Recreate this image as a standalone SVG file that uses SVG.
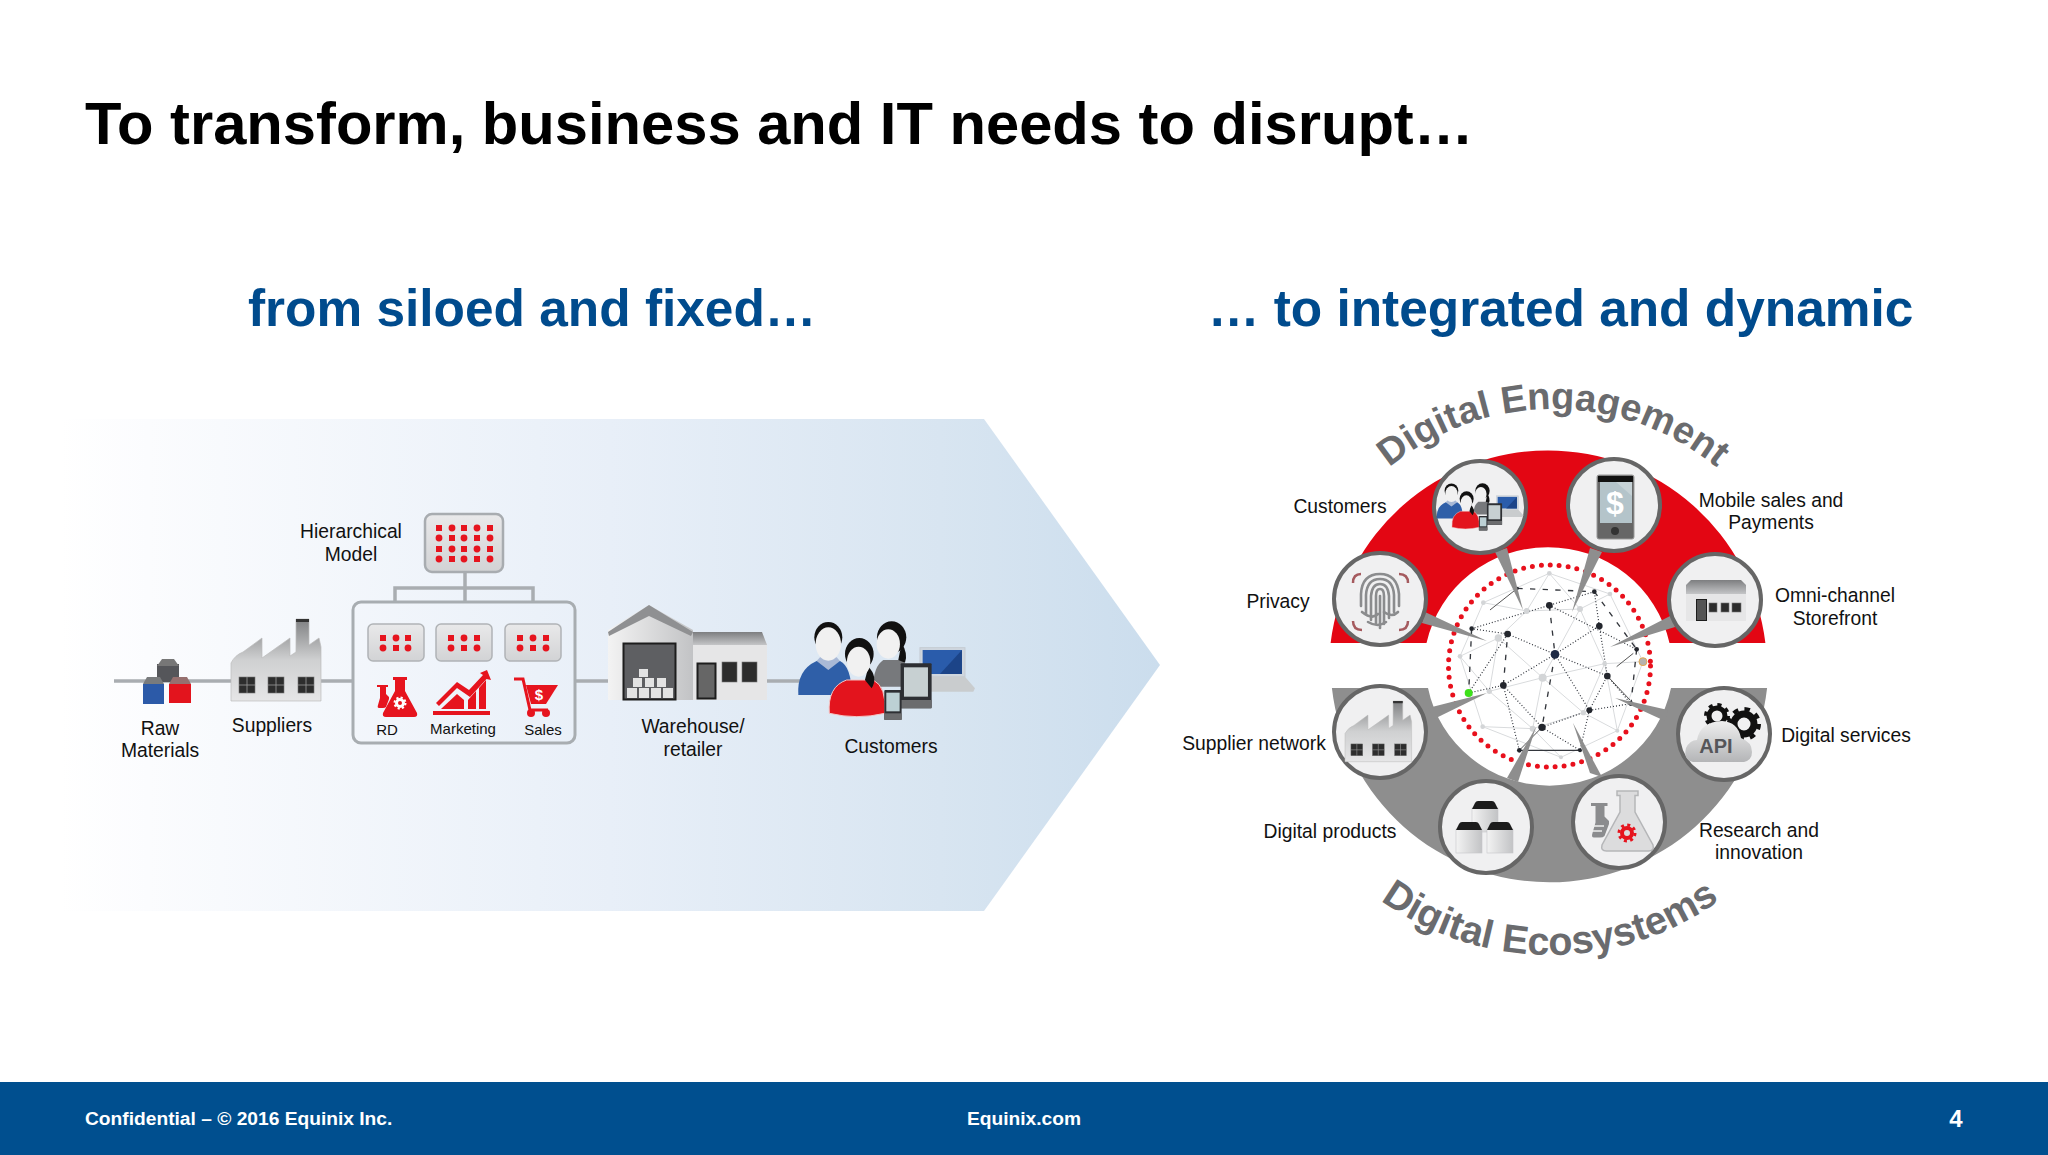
<svg xmlns="http://www.w3.org/2000/svg" width="2048" height="1155" viewBox="0 0 2048 1155">
<style>
text{font-family:"Liberation Sans",Arial,sans-serif;fill:#111}
.t{font-size:19.300px;text-anchor:middle}
.s{font-size:15px;text-anchor:middle}
.h{font-size:51.400px;font-weight:700;fill:#004b8d}
.f{font-size:19.200px;font-weight:700;fill:#fff}
.c{font-size:38px;font-weight:700;fill:#6a6b6e}
.ln{stroke:#a9adb1;stroke-width:3.5;fill:none}
.ring{fill:#f0f0f1;stroke:#666;stroke-width:4}
.ptr{fill:#8e8e8e}
.rd{fill:#e6141e}
.lg{stroke:#d9dbdd;stroke-width:3;fill:none}
.dt{stroke:#2c3038;stroke-width:3.5;stroke-dasharray:3 6;fill:none}
.ds{stroke:#33363c;stroke-width:4;stroke-dasharray:16 22;fill:none}
.nd{fill:#23262d}
.nl{fill:#d3d5d7}
.win{fill:#2d2d2d;stroke:#777;stroke-width:.6}
</style>
<defs>
<linearGradient id="arrow" x1="0" x2="1" y1="0" y2="0"><stop offset="0" stop-color="#fff"/><stop offset=".08" stop-color="#fbfcfe"/><stop offset=".5" stop-color="#e8eff8"/><stop offset=".8" stop-color="#d8e5f1"/><stop offset="1" stop-color="#cbdded"/></linearGradient>
<linearGradient id="gv" x1="0" x2="0" y1="0" y2="1"><stop offset="0" stop-color="#7f8082"/><stop offset=".5" stop-color="#cfd0d1"/><stop offset="1" stop-color="#e6e6e7"/></linearGradient>
<linearGradient id="gh" x1="0" x2="1" y1="0" y2="0"><stop offset="0" stop-color="#f3f3f3"/><stop offset="1" stop-color="#c2c3c5"/></linearGradient>
<linearGradient id="chip" x1="0" x2="0" y1="0" y2="1"><stop offset="0" stop-color="#e9e9ea"/><stop offset="1" stop-color="#d2d3d5"/></linearGradient>
<linearGradient id="cloud" x1="0" x2="0" y1="0" y2="1"><stop offset="0" stop-color="#efefef"/><stop offset="1" stop-color="#b4b5b7"/></linearGradient>
<linearGradient id="roof" x1="0" x2="0" y1="0" y2="1"><stop offset="0" stop-color="#7d7e80"/><stop offset="1" stop-color="#c4c5c7"/></linearGradient>
<g id="factory">
<path d="M0 82V44Q4 36 12 33L31 19V39L59 19V37L65 33V0H78V26L88 19L90 28V82Z" fill="url(#gv)" stroke="#bbb" stroke-width=".7"/>
<path d="M65 0H78V3H65Z" fill="#333"/>
<g class="win"><rect x="8" y="58" width="16" height="16"/><rect x="37" y="58" width="16" height="16"/><rect x="67" y="58" width="16" height="16"/></g>
<path d="M16 58V74M8 66H24M45 58V74M37 66H53M75 58V74M67 66H83" stroke="#999" stroke-width=".8"/>
</g>
<g id="flask"><path d="M10 0H24V3H22V14L34 36Q35 40 31 40H3Q-1 40 0 36L12 14V3H10Z"/></g>
<g id="sflask"><path d="M2 0H13V2H11V9L14 12V14L11 22Q10 23 8 23H4Q2 23 3 20L5 13V2H2Z"/></g>
<g id="people">
<path d="M625 345Q620 270 680 243L750 243Q785 260 785 345Z" fill="#2f5fa8"/>
<path d="M680 243L715 270L750 243L740 232H690Z" fill="#a9b9d6"/>
<ellipse cx="715" cy="172" rx="42" ry="46" fill="#111"/>
<ellipse cx="715" cy="192" rx="38" ry="50" fill="#f1f1f1"/>
<path d="M850 320Q850 260 880 240H935Q960 260 965 320Z" fill="#77797c"/>
<ellipse cx="905" cy="172" rx="44" ry="48" fill="#111"/>
<path d="M935 190Q955 220 945 248L925 240Z" fill="#111"/>
<ellipse cx="895" cy="192" rx="35" ry="44" fill="#f1f1f1"/>
<rect x="990" y="203" width="135" height="87" fill="#cfd6de" stroke="#c5cbd2" stroke-width="3"/>
<rect x="998" y="210" width="118" height="72" fill="#2a5cab"/>
<path d="M1050 282L1116 210V282Z" fill="#1c4488"/>
<path d="M1000 290H1125L1155 325L1150 335H1000Z" fill="#c9ccce"/>
<path d="M718 400Q712 320 770 300H850Q890 320 885 400Q800 420 718 400Z" fill="#e3141d" stroke="#f3c6c6" stroke-width="3"/>
<ellipse cx="808" cy="222" rx="43" ry="48" fill="#111"/>
<path d="M835 260Q865 290 845 325L825 300Z" fill="#111"/>
<ellipse cx="806" cy="245" rx="35" ry="45" fill="#f1f1f1"/>
<rect x="932" y="250" width="93" height="135" rx="3" fill="#2d2f33"/>
<rect x="942" y="262" width="72" height="88" fill="#c7d0d2"/>
<rect x="932" y="360" width="93" height="25" fill="#6b6c6e"/>
<rect x="883" y="330" width="52" height="90" rx="3" fill="#2d2f33"/>
<rect x="889" y="338" width="40" height="56" fill="#bcd0d4"/>
<rect x="883" y="400" width="52" height="20" fill="#6b6c6e"/>
</g>
<g id="cube"><rect y="7" width="26" height="24" fill="url(#gh)" stroke="#c6c7c9" stroke-width=".6"/><path d="M0 8L3 2Q4 0 6 0H20Q22 0 23 2L26 8Z" fill="#1c1c1c"/></g>
<path id="arc-top" d="M1295 667A258 258 0 0 1 1811 667"/>
<path id="arc-bottom" d="M1260 665A290 290 0 0 0 1840 665"/>
</defs>

<rect width="2048" height="1155" fill="#fff"/>
<polygon id="arrow-band" points="60,419 984,419 1160,665 984,911 60,911" fill="url(#arrow)"/>

<text id="title" x="85" y="144" font-size="59.700" font-weight="700" style="fill:#000">To transform, business and IT needs to disrupt…</text>
<text class="h" x="248" y="326">from siloed and fixed…</text>
<text class="h" x="1208" y="326">… to integrated and dynamic</text>

<g id="connectors-left">
<path class="ln" d="M114 681H232M320 681H353M576 681H610M766 681H800"/>
<path class="ln" d="M465 572V602M395 601V588H533V601" stroke-width="3"/>
</g>

<g id="node-raw-materials">
<rect x="157" y="664" width="22" height="18" fill="#55565a"/><path d="M157 666L162 659H174L179 666Z" fill="#777"/>
<rect x="143" y="684" width="21" height="20" fill="#2c5aa8"/><path d="M143 684L147 677H160L164 684Z" fill="#797b7d"/>
<rect x="169" y="684" width="22" height="19" fill="#e3141d"/><path d="M169 684L173 677H187L191 684Z" fill="#96706f"/>
<text class="t" x="160" y="735">Raw</text><text class="t" x="160" y="757">Materials</text>
</g>
<g id="node-suppliers">
<use href="#factory" transform="translate(231 619)"/>
<text class="t" x="272" y="732">Suppliers</text>
</g>
<g id="node-hierarchical-model">
<rect x="425" y="514" width="78" height="58" rx="7" fill="url(#chip)" stroke="#a8acb0" stroke-width="2.500"/>
<g class="rd">
<rect x="436" y="525" width="6" height="6"/><circle cx="452" cy="528" r="3.400"/><rect x="461" y="525" width="6" height="6"/><circle cx="477" cy="528" r="3.400"/><rect x="487" y="525" width="6" height="6"/>
<circle cx="439" cy="538" r="3.400"/><rect x="449" y="535" width="6" height="6"/><circle cx="464" cy="538" r="3.400"/><rect x="474" y="535" width="6" height="6"/><circle cx="490" cy="538" r="3.400"/>
<rect x="436" y="546" width="6" height="6"/><circle cx="452" cy="549" r="3.400"/><rect x="461" y="546" width="6" height="6"/><circle cx="477" cy="549" r="3.400"/><rect x="487" y="546" width="6" height="6"/>
<circle cx="439" cy="559" r="3.400"/><rect x="449" y="556" width="6" height="6"/><circle cx="464" cy="559" r="3.400"/><rect x="474" y="556" width="6" height="6"/><circle cx="490" cy="559" r="3.400"/>
</g>
<text class="t" x="351" y="538">Hierarchical</text><text class="t" x="351" y="561">Model</text>
</g>
<g id="node-divisions">
<rect x="353" y="602" width="222" height="141" rx="8" fill="none" stroke="#a8adb1" stroke-width="3"/>
<g fill="url(#chip)" stroke="#b0b3b6" stroke-width="1.500"><rect x="368" y="624" width="56" height="37" rx="5"/><rect x="436" y="624" width="56" height="37" rx="5"/><rect x="505" y="624" width="56" height="37" rx="5"/></g>
<g class="rd">
<rect x="380" y="635" width="6" height="6"/><circle cx="396" cy="638" r="3.400"/><rect x="405" y="635" width="6" height="6"/><circle cx="383" cy="648" r="3.400"/><rect x="393" y="645" width="6" height="6"/><circle cx="408" cy="648" r="3.400"/>
<rect x="448" y="635" width="6" height="6"/><circle cx="464" cy="638" r="3.400"/><rect x="474" y="635" width="6" height="6"/><circle cx="451" cy="648" r="3.400"/><rect x="461" y="645" width="6" height="6"/><circle cx="477" cy="648" r="3.400"/>
<rect x="517" y="635" width="6" height="6"/><circle cx="533" cy="638" r="3.400"/><rect x="543" y="635" width="6" height="6"/><circle cx="520" cy="648" r="3.400"/><rect x="530" y="645" width="6" height="6"/><circle cx="546" cy="648" r="3.400"/>
</g>
<use href="#sflask" class="rd" transform="translate(375 685)"/>
<use href="#flask" class="rd" transform="translate(383 677)"/>
<circle cx="400" cy="703" r="3.500" fill="none" stroke="#fff" stroke-width="3"/>
<circle cx="400" cy="703" r="5.500" fill="none" stroke="#fff" stroke-width="2" stroke-dasharray="2.200 2.100"/>
<g class="rd">
<rect x="433" y="711" width="57" height="4"/>
<path d="M441 709L457 694L464 700V709Z"/><path d="M468 709V700L476 691V709Z"/><path d="M479 709V688L486 680V709Z"/>
<path d="M487 670L491 680L486.500 679L470 697L457 688L439 706L436 703L457 682L469 690L483 675L480 673Z"/>
</g>
<path d="M514 679H523L530 710H548" fill="none" stroke="#e6141e" stroke-width="3"/>
<path class="rd" d="M526 685H558L546 704H531Z"/>
<circle class="rd" cx="531" cy="713" r="4"/><circle class="rd" cx="546" cy="713" r="4"/>
<text x="539" y="700" font-size="15" font-weight="700" text-anchor="middle" style="fill:#fff">$</text>
<text class="s" x="387" y="735">RD</text><text class="s" x="463" y="734">Marketing</text><text class="s" x="543" y="735">Sales</text>
</g>
<g id="node-warehouse">
<path d="M693 632H762L767 645V700H693Z" fill="#e6e6e7"/>
<path d="M693 632H762L767 645H693Z" fill="url(#roof)"/>
<path d="M608 700V630L649 605L693 630V700Z" fill="url(#gh)"/>
<path d="M608 632L649 605L693 632L691 636L649 616L609 636Z" fill="#8f9092"/>
<rect x="623.500" y="643.500" width="52" height="56" fill="#5e5f62" stroke="#1d1d1d" stroke-width="2"/>
<g fill="#e3e3e3"><rect x="627" y="688" width="10" height="10"/><rect x="639" y="688" width="10" height="10"/><rect x="651" y="688" width="10" height="10"/><rect x="663" y="688" width="10" height="10"/><rect x="633" y="678" width="9" height="9"/><rect x="645" y="678" width="9" height="9"/><rect x="657" y="678" width="9" height="9"/><rect x="639" y="669" width="9" height="8"/></g>
<rect x="697.500" y="663.500" width="18" height="35" fill="#666" stroke="#1d1d1d" stroke-width="2"/>
<g class="win"><rect x="722" y="662" width="15" height="20"/><rect x="742" y="662" width="15" height="20"/></g>
<text class="t" x="693" y="733">Warehouse/</text><text class="t" x="693" y="756">retailer</text>
</g>
<g id="node-customers">
<use href="#people" transform="translate(590 580) scale(.3333)"/>
<text class="t" x="891" y="753">Customers</text>
</g>

<path id="band-engagement" fill="#e30613" d="M1330.600 643A219 219 0 0 1 1765.400 643H1669.500A124.400 122 0 0 0 1426.500 643Z"/>
<path id="band-ecosystems" fill="#8e8e8e" d="M1331.900 688A219 219 0 0 0 1767.100 688H1671A124 122 0 0 1 1428 688Z"/>

<g id="network" transform="translate(1430 550) scale(.3333)">
<path class="lg" d="M358 70L160 158L90 319L158 530L393 622L562 542L639 335L540 132L358 70M205 264L290 183L450 177L524 341L460 488L308 536L178 424L205 264M90 319L205 264M358 70L290 183M358 70L450 177M540 132L450 177M524 341L639 335M178 424L90 319M158 530L308 536M393 622L308 536M562 542L460 488M338 383L205 264M338 383L450 177M338 383L460 488M338 383L178 424M338 383L524 341M338 383L308 536M160 158L290 183M562 542L524 341"/>
<path class="dt" d="M375 313L508 228M375 313L532 378M375 313L478 481M375 313L220 406M375 313L233 252M125 236L358 166M358 166L620 298M116 429L233 252M116 429L220 406M493 125L358 166M478 481L532 378M478 481L450 601M336 532L450 601M336 532L478 481M233 252L125 236M508 228L493 125M508 228L532 378M532 378L603 461M478 481L603 461M220 406L268 601M220 406L336 532"/>
<path class="ds" d="M125 236L116 429M262 115L493 125M493 125L620 298M620 298L603 461M220 406L233 252M358 166L375 313M375 313L336 532"/>
<path d="M268 601H450" stroke="#33363c" stroke-width="4"/>
<path d="M262 115L180 180M336 532L268 601M532 378L600 450M560 350L610 310" stroke="#555" stroke-width="3"/>
<g class="nl"><circle cx="358" cy="70" r="7"/><circle cx="540" cy="132" r="7"/><circle cx="160" cy="158" r="7"/><circle cx="90" cy="319" r="7"/><circle cx="158" cy="530" r="7"/><circle cx="393" cy="622" r="6"/><circle cx="562" cy="542" r="6"/><circle cx="524" cy="341" r="7"/><circle cx="450" cy="177" r="9"/><circle cx="290" cy="183" r="9"/><circle cx="205" cy="264" r="11"/><circle cx="178" cy="424" r="8"/><circle cx="338" cy="383" r="12"/><circle cx="308" cy="536" r="9"/><circle cx="460" cy="488" r="8"/></g>
<g class="nd"><circle cx="358" cy="166" r="10"/><circle cx="508" cy="228" r="10"/><circle cx="532" cy="378" r="10"/><circle cx="478" cy="481" r="9"/><circle cx="336" cy="532" r="11"/><circle cx="220" cy="406" r="10"/><circle cx="233" cy="252" r="10"/><circle cx="125" cy="236" r="7"/><circle cx="262" cy="115" r="5"/><circle cx="493" cy="125" r="7"/><circle cx="620" cy="298" r="7"/><circle cx="603" cy="461" r="7"/><circle cx="450" cy="601" r="6"/><circle cx="268" cy="601" r="7"/></g>
<circle cx="375" cy="313" r="13" fill="#1e2a45"/>
<circle cx="116" cy="429" r="12" fill="#3ee01a"/>
<circle cx="639" cy="335" r="12" fill="#b7b2ad" stroke="#e8a33c" stroke-width="2.500"/>
</g>
<circle id="dots" cx="1549.500" cy="666" r="101" fill="none" stroke="#e8101c" stroke-width="5" stroke-linecap="round" stroke-dasharray="0 8.980"/>

<g id="connectors-right" class="ptr">
<polygon points="1495,552 1507,548 1523,610"/>
<polygon points="1590,548 1602,552 1572,612"/>
<polygon points="1425,612 1422,623 1487,641"/>
<polygon points="1672,615 1675,627 1610,647"/>
<polygon points="1428,708 1434,719 1487,693"/>
<polygon points="1507,778 1518,782 1536,727"/>
<polygon points="1590,773 1602,777 1573,723"/>
<polygon points="1668,710 1665,721 1615,698"/>
</g>

<g id="node-e-customers">
<circle class="ring" cx="1480" cy="507" r="46"/>
<use href="#people" transform="translate(1334.700 463.300) scale(.1633 .16)"/>
<text class="t" x="1340" y="513">Customers</text>
</g>
<g id="node-e-mobile">
<circle class="ring" cx="1614" cy="505" r="46"/>
<rect x="1597" y="475" width="37" height="64" rx="2" fill="#666" stroke="#999"/>
<rect x="1598" y="476" width="35" height="6" fill="#111"/>
<rect x="1600" y="482" width="32" height="41" fill="#b4c4ca"/>
<path d="M1616 482H1632V496Z" fill="#c6d2d6"/>
<circle cx="1615" cy="531" r="4" fill="#333"/>
<text x="1615" y="514" font-size="32" font-weight="700" text-anchor="middle" style="fill:#fff">$</text>
<text class="t" x="1771" y="507">Mobile sales and</text><text class="t" x="1771" y="529">Payments</text>
</g>
<g id="node-e-privacy">
<circle class="ring" cx="1380" cy="599" r="46"/>
<path d="M1361 574Q1353 574 1353 583M1399 574Q1408 574 1408 583M1353 621Q1353 630 1362 630M1408 621Q1408 630 1399 630" fill="none" stroke="#a55a5e" stroke-width="2.500"/>
<g fill="none" stroke="#8b8c8e" stroke-width="2.600" stroke-linecap="round">
<path d="M1361 606V594Q1362 574 1380 574Q1397 574 1399 594V606"/>
<path d="M1366 614V595Q1367 579 1380 579Q1393 579 1394 595V612"/>
<path d="M1371 620V596Q1372 584 1380 584Q1388 584 1389 596V618"/>
<path d="M1376 624V596Q1376 589 1380 589Q1384 589 1384 596V624"/>
<path d="M1380 596V628"/>
<path d="M1362 612Q1372 620 1378 614M1368 622Q1378 628 1386 622M1384 612Q1392 618 1398 612"/>
</g>
<text class="t" x="1278" y="608">Privacy</text>
</g>
<g id="node-e-storefront">
<circle class="ring" cx="1715" cy="600" r="46"/>
<path d="M1686 594V585L1691 580H1741L1746 585V594Z" fill="url(#roof)"/>
<rect x="1686" y="594" width="60" height="27" fill="#e6e6e7"/>
<rect x="1696.500" y="599.500" width="10" height="21" fill="#555" stroke="#1d1d1d"/>
<g class="win"><rect x="1709" y="603" width="8" height="9"/><rect x="1721" y="603" width="8" height="9"/><rect x="1732" y="603" width="9" height="9"/></g>
<text class="t" x="1835" y="602">Omni-channel</text><text class="t" x="1835" y="625">Storefront</text>
</g>
<g id="node-e-supplier">
<circle class="ring" cx="1380" cy="732" r="46"/>
<use href="#factory" transform="translate(1345 701) scale(.74)"/>
<text class="t" x="1254" y="750">Supplier network</text>
</g>
<g id="node-e-products">
<circle class="ring" cx="1486" cy="827" r="46"/>
<use href="#cube" transform="translate(1472 801)"/>
<use href="#cube" transform="translate(1456 822)"/>
<use href="#cube" transform="translate(1487 822)"/>
<text class="t" x="1330" y="838">Digital products</text>
</g>
<g id="node-e-research">
<circle class="ring" cx="1619" cy="822" r="46"/>
<use href="#sflask" fill="#8b8c8e" transform="translate(1588 803) scale(1.500)"/>
<path d="M1590 826H1604M1589 831H1602" stroke="#eee" stroke-width="1.500"/>
<use href="#flask" fill="#dcdcdd" stroke="#b5b6b8" transform="translate(1602 791) scale(1.500)"/>
<circle cx="1627" cy="833" r="5" fill="none" stroke="#e6141e" stroke-width="4"/>
<circle cx="1627" cy="833" r="8" fill="none" stroke="#e6141e" stroke-width="3" stroke-dasharray="3 3.280"/>
<text class="t" x="1759" y="837">Research and</text><text class="t" x="1759" y="859">innovation</text>
</g>
<g id="node-e-api">
<circle class="ring" cx="1724" cy="734" r="46"/>
<circle cx="1717" cy="716" r="8" fill="none" stroke="#111" stroke-width="5"/>
<circle cx="1717" cy="716" r="11" fill="none" stroke="#111" stroke-width="4" stroke-dasharray="4 4.640"/>
<circle cx="1744" cy="724" r="10" fill="none" stroke="#111" stroke-width="7"/>
<circle cx="1744" cy="724" r="15" fill="none" stroke="#111" stroke-width="4" stroke-dasharray="5.500 6.280"/>
<path d="M1693 762Q1683 760 1686 748Q1690 740 1697 740Q1700 722 1722 721Q1738 722 1741 738Q1752 742 1752 752Q1752 760 1744 762Z" fill="url(#cloud)"/>
<text x="1716" y="753" font-size="20" font-weight="700" text-anchor="middle" style="fill:#55565a">API</text>
<text class="t" x="1846" y="742">Digital services</text>
</g>

<text id="label-engagement" class="c"><textPath href="#arc-top" startOffset="50%" text-anchor="middle">Digital Engagement</textPath></text>
<text id="label-ecosystems" class="c" style="font-size:39.500px"><textPath href="#arc-bottom" startOffset="50%" text-anchor="middle">Digital Ecosystems</textPath></text>

<g id="footer">
<rect y="1082" width="2048" height="73" fill="#004f8f"/>
<text class="f" x="85" y="1125">Confidential – © 2016 Equinix Inc.</text>
<text class="f" x="1024" y="1125" text-anchor="middle">Equinix.com</text>
<text x="1956" y="1127" font-size="24" font-weight="700" text-anchor="middle" style="fill:#fff">4</text>
</g>
</svg>
